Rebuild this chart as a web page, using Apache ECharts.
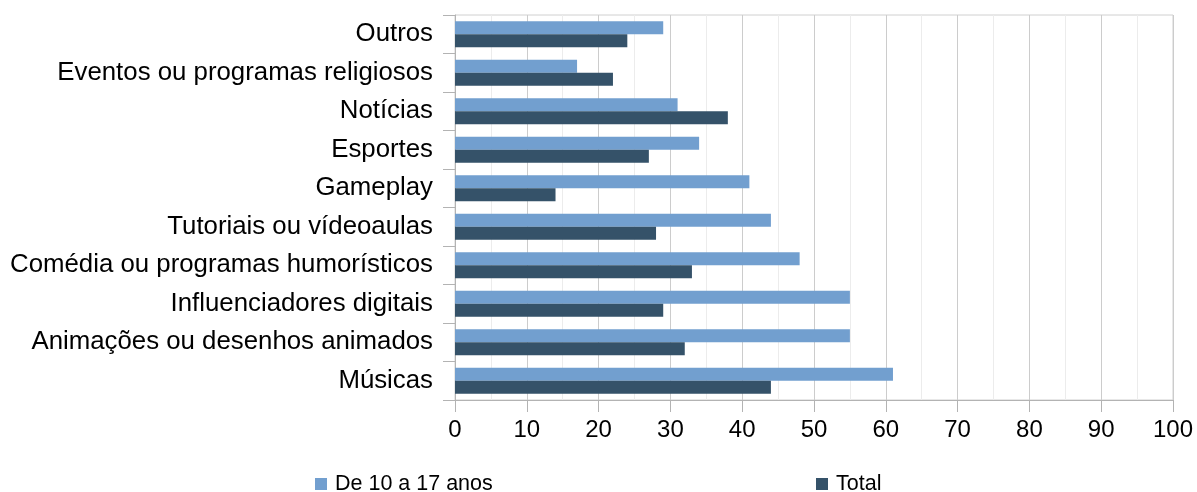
<!DOCTYPE html>
<html>
<head>
<meta charset="utf-8">
<script src="https://cdn.jsdelivr.net/npm/echarts@6/dist/echarts.min.js"></script>
<style>html,body{margin:0;padding:0;background:#fff}#c{width:1197px;height:492px}</style>
</head>
<body>
<div id="c"></div>
<script>
const categories = ['Músicas','Animações ou desenhos animados','Influenciadores digitais','Comédia ou programas humorísticos','Tutoriais ou vídeoaulas','Gameplay','Esportes','Notícias','Eventos ou programas religiosos','Outros'];
const young = [61,55,55,48,44,41,34,31,17,29];
const total = [44,32,29,33,28,14,27,38,22,24];
const xTicks = {min:0, max:100, interval:10};
const seriesNames = ['De 10 a 17 anos','Total'];
const colors = {young:'#729fcf', total:'#355269'};

const chart = echarts.init(document.getElementById('c'), null, {renderer:'canvas'});
const font = 'Liberation Sans, Arial, sans-serif';
chart.setOption({
  animation:false,
  textStyle:{fontFamily:font},
  grid:{left:455, right:24, top:15, bottom:92, show:true, borderColor:'#d0d0d0', borderWidth:1, containLabel:false},
  legend:[
    {data:[seriesNames[0]], left:315, top:473, itemWidth:12, itemHeight:12, icon:'rect', itemGap:6, padding:0, textStyle:{fontSize:21.5, color:'#000', fontFamily:font, padding:[0,0,0,3]}},
    {data:[seriesNames[1]], left:816, top:473, itemWidth:12, itemHeight:12, icon:'rect', itemGap:6, padding:0, textStyle:{fontSize:21.5, color:'#000', fontFamily:font, padding:[0,0,0,3]}}
  ],
  xAxis:{type:'value', min:xTicks.min, max:xTicks.max, interval:xTicks.interval,
    axisLine:{show:true, lineStyle:{color:'#b3b3b3'}},
    axisTick:{show:true, length:12, lineStyle:{color:'#b3b3b3'}},
    axisLabel:{fontSize:24, color:'#000', margin:18, fontFamily:font},
    splitLine:{show:true, lineStyle:{color:'#cccccc'}},
    minorTick:{show:false, splitNumber:2},
    minorSplitLine:{show:true, lineStyle:{color:'#ececec'}}
  },
  yAxis:{type:'category', data:categories,
    axisLine:{show:true, lineStyle:{color:'#b3b3b3'}},
    axisTick:{show:true, length:12, lineStyle:{color:'#b3b3b3'}},
    axisLabel:{fontSize:25.8, color:'#000', margin:22, fontFamily:font},
    splitLine:{show:false}
  },
  series:[
    {name:seriesNames[0], type:'bar', data:young, itemStyle:{color:colors.young}, barGap:'0%', barCategoryGap:'33%'},
    {name:seriesNames[1], type:'bar', data:total, itemStyle:{color:colors.total}, barGap:'0%', barCategoryGap:'33%'}
  ]
});
</script>
</body>
</html>
